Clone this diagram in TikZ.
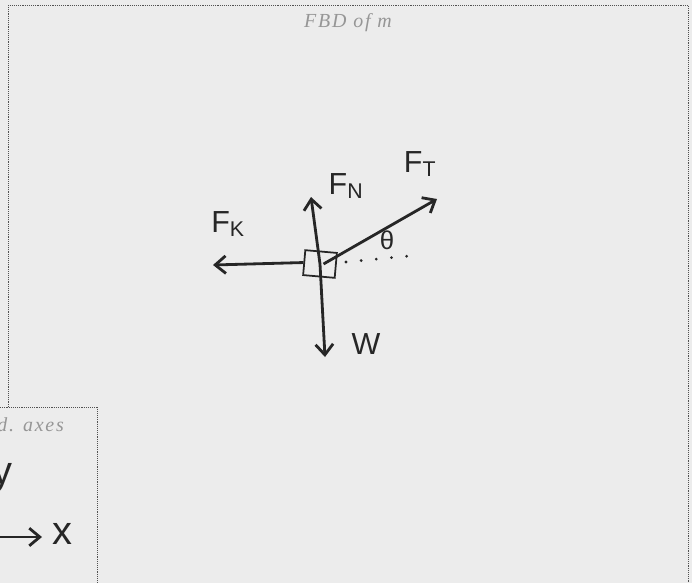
\documentclass[tikz,border=0pt]{standalone}
\usepackage{fontspec}
\setsansfont{Liberation Sans}
\newfontfamily\capfont[LetterSpace=9]{Liberation Serif}
\usetikzlibrary{arrows.meta,positioning}
\definecolor{paper}{RGB}{236,236,236}
\definecolor{ink}{RGB}{38,38,38}
\definecolor{pencil}{RGB}{150,150,150}
\tikzstyle{frame}=[draw=ink!80,line width=0.7pt,dash pattern=on 0.7pt off 0.9pt]
\tikzstyle{caption}=[text=pencil,font=\fontsize{17}{19}\selectfont\capfont\itshape]
\tikzstyle{hand}=[text=ink,font=\fontsize{26}{28}\selectfont\sffamily,inner sep=0pt]
\tikzstyle{axlab}=[hand,font=\fontsize{34}{36}\selectfont\sffamily]
\tikzstyle{force}=[-{Straight Barb[length=9pt,width=15pt,line width=2.4pt]},line width=2.4pt,draw=ink]
\tikzstyle{block}=[rectangle,draw=ink,line width=1.5pt,minimum width=0.95cm,minimum height=0.75cm,inner sep=0pt]
\begin{document}
\begin{tikzpicture}[x=0.03cm,y=-0.03cm]
\fill[paper] (0,0) rectangle (692,583);
\useasboundingbox (0,0) rectangle (692,583);
\clip (0,0) rectangle (692,583);
\draw[frame] (8,5) rectangle (688,620);
\node[caption] (title) at (348,23) {FBD of m};
\draw[frame,fill=paper] (-20,407) rectangle (97,620);
\node[caption,anchor=east] (axtitle) at (68,425) {Coord. axes};
\node[block,rotate=-5] (blk) at (320,264) {};
\coordinate (ntip) at (311,197);
\coordinate (wtip) at (325,357);
\coordinate (ktip) at (213,265);
\coordinate (ttip) at (437,199);
\coordinate (dotstart) at (346,262);
\coordinate (dotend) at (420,255);
\draw[force] (blk.center) -- (ntip);
\draw[force] (blk.center) -- (wtip);
\draw[force] (blk.west) -- (ktip);
\draw[force] ([xshift=3]blk.center) -- (ttip);
\draw[ink,line width=2.6pt,line cap=round,dash pattern=on 0pt off 13pt] (dotstart) -- (dotend);
\node[hand] (fn) at (346,186) {F\textsubscript{N}};
\node[hand] (ft) at (420,164) {F\textsubscript{T}};
\node[hand] (fk) at (228,224) {F\textsubscript{K}};
\node[hand] (w) at (366,344) {W};
\node[hand,font=\fontsize{22}{24}\selectfont\sffamily] (theta) at (387,240) {θ};
\coordinate (xstart) at (-10,537);
\coordinate (xtip) at (42,537);
\draw[force] (xstart) -- (xtip);
\node[axlab] (xlab) at (62,534) {x};
\node[axlab] (ylab) at (2,478) {y};
\end{tikzpicture}
\end{document}
